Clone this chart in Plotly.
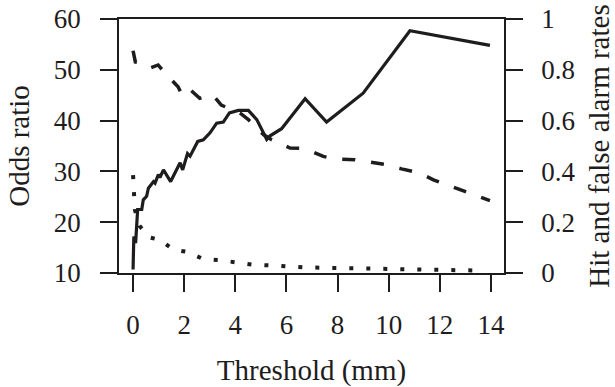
import plotly.graph_objects as go

# Odds ratio (left axis)
or_x = [0.0, 0.03, 0.1, 0.18, 0.34, 0.4, 0.53, 0.6, 0.8, 0.86, 0.99, 1.05, 1.19, 1.47, 1.84, 1.94, 2.13, 2.23,
        2.53, 2.75, 3.01, 3.27, 3.53, 3.77, 4.12, 4.51, 4.84, 5.03, 5.23, 5.36, 5.81, 6.73, 7.57, 9.0, 10.83, 13.96]
or_y = [10.7, 17.2, 15.9, 22.5, 22.5, 24.4, 25.1, 26.7, 28.0, 27.7, 29.4, 28.8, 30.3, 28.0, 31.7, 30.3, 33.5, 33.0,
        35.9, 36.2, 37.6, 39.5, 39.7, 41.5, 42.0, 42.0, 40.2, 38.2, 36.3, 37.0, 38.4, 44.3, 39.7, 45.4, 57.7, 54.8]

# Hit rate (right axis)
hit_x = [0.0, 0.09, 0.33, 0.65, 0.98, 1.26, 1.76, 1.92, 2.22, 2.61, 3.13, 3.45, 4.18, 4.51, 5.1, 5.42, 6.14, 6.73,
         7.44, 7.9, 8.68, 9.2, 9.92, 10.5, 11.2, 11.75, 12.4, 12.98, 13.96]
hit_y = [0.875, 0.831, 0.826, 0.806, 0.819, 0.786, 0.733, 0.700, 0.723, 0.688, 0.700, 0.661, 0.63, 0.604, 0.545,
         0.525, 0.492, 0.49, 0.459, 0.449, 0.446, 0.437, 0.426, 0.41, 0.394, 0.367, 0.341, 0.321, 0.285]

# False alarm rate (right axis)
fa_x = [0.0, 0.03, 0.07, 0.25, 0.64, 1.03, 1.58, 2.13, 2.72, 3.36, 4.03, 4.68, 5.35, 6.01, 6.66, 7.34, 7.99,
        8.66, 9.33, 10.0, 10.66, 11.33, 12.0, 12.66, 13.3]
fa_y = [0.385, 0.318, 0.249, 0.186, 0.14, 0.131, 0.092, 0.083, 0.056, 0.051, 0.042, 0.033, 0.030, 0.025, 0.022,
        0.021, 0.020, 0.018, 0.017, 0.016, 0.014, 0.013, 0.012, 0.012, 0.010]

x_ticks = [0, 2, 4, 6, 8, 10, 12, 14]
y_ticks = [10, 20, 30, 40, 50, 60]
y2_ticks = [0, 0.2, 0.4, 0.6, 0.8, 1]
y2_labels = ["0", "0.2", "0.4", "0.6", "0.8", "1"]

ink = "#1e1c1d"
FONT = "Liberation Serif"
TICK_SIZE = 27
TITLE_SIZE = 29

fig = go.Figure()
fig.add_trace(go.Scatter(x=hit_x, y=hit_y, yaxis="y2", mode="lines",
                         line=dict(color=ink, width=3.5, dash="13px,16px")))
fig.add_trace(go.Scatter(x=fa_x, y=fa_y, yaxis="y2", mode="lines",
                         line=dict(color=ink, width=4, dash="4px,13px")))
fig.add_trace(go.Scatter(x=or_x, y=or_y, mode="lines",
                         line=dict(color=ink, width=3.2)))

axis_common = dict(showgrid=False, zeroline=False, showline=True, linecolor=ink, linewidth=1.5,
                   ticks="outside", ticklen=17, tickwidth=1.5, tickcolor=ink, automargin=False,
                   tickfont=dict(family=FONT, size=TICK_SIZE, color=ink))

fig.update_layout(
    width=615, height=387,
    margin=dict(l=119, r=111, t=19, b=114),
    paper_bgcolor="white", plot_bgcolor="white",
    showlegend=False,
    font=dict(family=FONT, color=ink),
    xaxis=dict(**axis_common, range=[-0.55, 14.51], tickvals=x_ticks, mirror=True,
               ticklabelstandoff=10,
               title=dict(text="Threshold (mm)", font=dict(family=FONT, size=TITLE_SIZE, color=ink), standoff=34)),
    yaxis=dict(**axis_common, range=[10, 60], tickvals=y_ticks, ticklabelstandoff=14,
               title=dict(text="Odds ratio", font=dict(family=FONT, size=TITLE_SIZE, color=ink), standoff=16)),
    yaxis2=dict(**axis_common, range=[0, 1], tickvals=y2_ticks, ticktext=y2_labels,
                overlaying="y", side="right", ticklabelstandoff=13,
                title=dict(text="Hit and false alarm rates", font=dict(family=FONT, size=TITLE_SIZE, color=ink),
                           standoff=25)),
)

fig.write_html("out.html")
